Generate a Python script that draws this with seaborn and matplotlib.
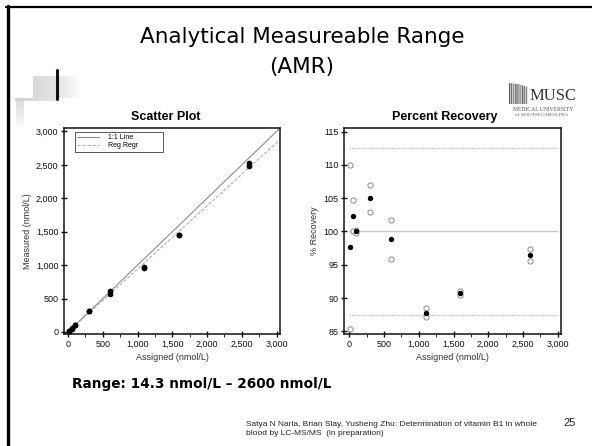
import matplotlib
matplotlib.use("Agg")
import matplotlib.pyplot as plt
import matplotlib.ticker as mticker
from matplotlib.colors import LinearSegmentedColormap
from matplotlib.patches import Polygon
import numpy as np
import pandas as pd
import seaborn as sns

# --- data ---
assigned = [14.3, 50, 100, 300, 600, 1100, 1600, 2600]
measured_rep1 = [15.7, 52.4, 100, 321, 611, 974, 1456, 2530]
measured_rep2 = [12.2, 50.0, 100, 309, 575, 959, 1446, 2486]
recovery_rep1 = [110.0, 104.7, 100.2, 107.0, 101.8, 88.5, 91.0, 97.3]
recovery_rep2 = [85.3, 100.0, 99.8, 103.0, 95.8, 87.2, 90.4, 95.6]
recovery_mean = [97.7, 102.3, 100.0, 105.0, 98.8, 87.8, 90.7, 96.4]
recovery_target = 100.0
recovery_limits = [87.5, 112.5]
x_ticks = [0, 500, 1000, 1500, 2000, 2500, 3000]
y_ticks_scatter = [0, 500, 1000, 1500, 2000, 2500, 3000]
y_ticks_recovery = [85, 90, 95, 100, 105, 110, 115]

scatter_df = pd.DataFrame({
    "assigned": assigned * 2,
    "measured": measured_rep1 + measured_rep2,
})
rep_df = pd.DataFrame({
    "assigned": assigned * 2,
    "recovery": recovery_rep1 + recovery_rep2,
})
mean_df = pd.DataFrame({"assigned": assigned, "recovery": recovery_mean})

sns.set_theme(style="white")
plt.rcParams["font.family"] = ["Liberation Sans", "DejaVu Sans"]
plt.rcParams["text.color"] = "black"

W, H = 592, 446
fig = plt.figure(figsize=(W / 100, H / 100), dpi=100)


def box(x0, y0, x1, y1):
    # pixel box (top-left origin) -> figure fraction rect
    return [x0 / W, 1 - y1 / H, (x1 - x0) / W, (y1 - y0) / H]


def ftext(x, y, s, **kw):
    fig.text(x / W, 1 - y / H, s, **kw)


def grad(x0, y0, x1, y1, c0, c1, horizontal=True):
    a = fig.add_axes(box(x0, y0, x1, y1), zorder=0)
    g = np.linspace(0, 1, 64)
    img = g[None, :] if horizontal else g[:, None]
    a.imshow(img, aspect="auto", cmap=LinearSegmentedColormap.from_list("g", [c0, c1]))
    a.axis("off")


# slide frame and decorations
fig.add_artist(plt.Line2D([7.5 / W, 7.5 / W], [0, 1 - 6 / H], color="black", lw=2.4, transform=fig.transFigure))
fig.add_artist(plt.Line2D([6 / W, 1], [1 - 6.5 / H, 1 - 6.5 / H], color="black", lw=1.6, transform=fig.transFigure))
grad(33, 76, 57, 98, "#d9d9d9", "#e4e4e4")
grad(57, 76, 82, 98, "#e4e4e4", "#ffffff")
grad(15, 98, 56, 101, "#cfcfcf", "#e8e8e8")
grad(16, 101, 24, 130, "#dcdcdc", "#ffffff", horizontal=False)
fig.add_artist(plt.Line2D([57.5 / W, 57.5 / W], [1 - 70 / H, 1 - 99 / H], color="#111111", lw=2.2, transform=fig.transFigure))

# MUSC logo
logo = fig.add_axes(box(509, 83, 528, 104), zorder=1)
stripes = np.tile([0.35, 0.75, 0.45, 0.85, 0.5, 0.9], 3)[None, :]
im = logo.imshow(stripes, aspect="auto", cmap="gray", vmin=0, vmax=1, extent=[0, 1, 0, 1])
clip = Polygon([(0, 0), (1, 0), (1, 0.8), (0.5, 0.95), (0, 1)], transform=logo.transData)
im.set_clip_path(clip)
logo.set_xlim(0, 1)
logo.set_ylim(0, 1)
logo.axis("off")
ftext(553, 96, "MUSC", family="Liberation Serif", fontsize=12, color="#333333", ha="center", va="center")
ftext(543, 109.5, "MEDICAL UNIVERSITY", family="Liberation Serif", fontsize=4.1, color="#555555", ha="center", va="center")
ftext(542, 115.5, "of SOUTH CAROLINA", family="Liberation Serif", fontsize=3.9, color="#555555", ha="center", va="center")

# titles
ftext(302, 37, "Analytical Measureable Range", family="DejaVu Sans", fontsize=15.5, ha="center", va="center")
ftext(302, 67, "(AMR)", family="DejaVu Sans", fontsize=15.5, ha="center", va="center")

ax1 = fig.add_axes(box(64, 128, 280, 334))
ax2 = fig.add_axes(box(344, 128, 561, 334))

# --- scatter plot ---
fit_x = np.array([0, 3050])
slope, intercept = np.polyfit(scatter_df["assigned"], scatter_df["measured"], 1)
ax1.plot(fit_x, fit_x, color="#8c8c8c", lw=0.8, label="1:1 Line")
ax1.plot(fit_x, slope * fit_x + intercept, color="#b0b0b0", lw=0.8, dashes=(3, 1.5), label="Reg Regr")
sns.scatterplot(data=scatter_df, x="assigned", y="measured", ax=ax1, color="black",
                s=17, edgecolor="black", linewidth=0, zorder=3, legend=False)
ax1.set_xlim(-58, 3050)
ax1.set_ylim(-30, 3052)
ax1.set_yticks(y_ticks_scatter)
ax1.set_ylabel("Measured (nmol/L)", fontsize=6.5, color="#333333", labelpad=3)
leg = ax1.legend(loc="upper left", bbox_to_anchor=(0.05, 0.982, 0.41, 0), mode="expand",
                 borderaxespad=0, fontsize=5, handlelength=3.2, handletextpad=1.2,
                 fancybox=False, edgecolor="#555555", framealpha=1, borderpad=0.35,
                 labelspacing=0.15)
leg.get_frame().set_linewidth(0.7)
ax1.set_title("Scatter Plot", fontsize=9, fontweight="bold", pad=6, x=0.47)

# --- percent recovery ---
ax2.hlines(recovery_limits, 0, 3000, color="#c4c4c4", lw=1.0, linestyles=(0, (1, 0.6)))
ax2.hlines(recovery_target, 0, 3000, color="#c8c8c8", lw=1.0)
sns.scatterplot(data=rep_df, x="assigned", y="recovery", ax=ax2, s=14, facecolor="white",
                edgecolor="#8a8a8a", linewidth=0.7, zorder=3, legend=False)
sns.scatterplot(data=mean_df, x="assigned", y="recovery", ax=ax2, s=15, color="black",
                linewidth=0, zorder=4, legend=False)
ax2.set_xlim(-76, 3046)
ax2.set_ylim(84.6, 115.55)
ax2.set_yticks(y_ticks_recovery)
ax2.set_ylabel("% Recovery", fontsize=6.5, color="#333333", labelpad=3)
ax2.set_title("Percent Recovery", fontsize=9, fontweight="bold", pad=6, x=0.465)

for ax in (ax1, ax2):
    ax.set_xticks(x_ticks)
    ax.xaxis.set_minor_locator(mticker.MultipleLocator(250))
    ax.xaxis.set_major_formatter(mticker.StrMethodFormatter("{x:,.0f}"))
    ax.yaxis.set_major_formatter(mticker.StrMethodFormatter("{x:,.0f}"))
    ax.set_xlabel("Assigned (nmol/L)", fontsize=6.5, color="#333333", labelpad=3)
    ax.tick_params(which="major", direction="inout", length=5, width=1.0, labelsize=6.5,
                   pad=1.5, bottom=True, left=True, colors="#111111")
    ax.tick_params(which="minor", direction="out", length=2, width=0.7, bottom=True)
    for sp in ax.spines.values():
        sp.set_linewidth(1.1)
        sp.set_color("#111111")
    ax.set_facecolor("white")

ftext(72, 384, "Range: 14.3 nmol/L \u2013 2600 nmol/L", family="DejaVu Sans", fontsize=9.8,
      fontweight="bold", ha="left", va="center")
ftext(246, 429, "Satya N Narla, Brian Slay, Yusheng Zhu: Determination of vitamin B1 in whole\n"
      "blood by LC-MS/MS  (in preparation)", fontsize=6.0, color="#222222",
      ha="left", va="center", linespacing=1.4)
ftext(576, 423, "25", fontsize=8, color="#222222", ha="right", va="center")

fig.savefig("out.png", dpi=100, facecolor="white")
